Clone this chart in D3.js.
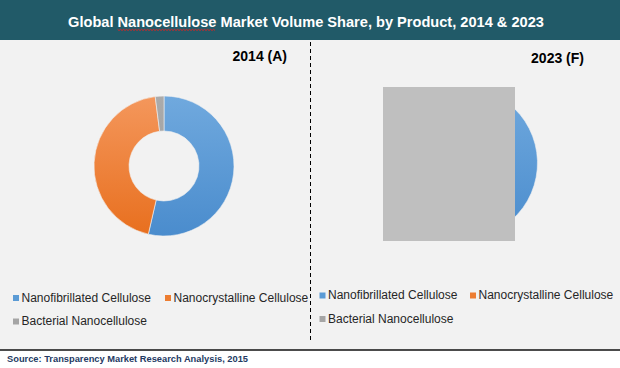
<!DOCTYPE html>
<html>
<head>
<meta charset="utf-8">
<script src="https://cdn.jsdelivr.net/npm/d3@7"></script>
<style>
  body { margin: 0; background: #ffffff; }
  text { font-family: Arial, "Liberation Sans", sans-serif; }
</style>
</head>
<body>
<div id="chart"></div>
<script>
// DATA
const products = ["Nanofibrillated Cellulose", "Nanocrystalline Cellulose", "Bacterial Nanocellulose"];
const share2014 = [53.6, 44.4, 2.0];
const share2023 = [56.0, 41.0, 3.0];
const panelLabels = ["2014 (A)", "2023 (F)"];
const colorTop = ["#70a9de", "#f4975c", "#ababab"];
const colorBottom = ["#4a8ccd", "#e86f1e", "#979797"];
const legendColors = ["#5b9bd5", "#ed7d31", "#a5a5a5"];

const W = 620, H = 368;

const svg = d3.select("#chart").append("svg")
  .attr("width", W).attr("height", H);

// BACKGROUND
svg.append("rect").attr("width", W).attr("height", H).attr("fill", "#ffffff");
svg.append("rect").attr("x", 0).attr("y", 40).attr("width", W).attr("height", 310).attr("fill", "#f2f2f2");

// TITLE
svg.append("rect").attr("width", W).attr("height", 40).attr("fill", "#215a68");
const title = svg.append("text")
  .attr("x", 306).attr("y", 26.5)
  .attr("text-anchor", "middle")
  .attr("fill", "#ffffff")
  .style("font-size", "14.6px")
  .style("font-weight", "bold")
  .text("Global Nanocellulose Market Volume Share, by Product, 2014 & 2023");

// spell-check squiggle under "Nanocellulose"
const tn = title.node();
const sq0 = tn.getStartPositionOfChar(7).x;
const sq1 = tn.getEndPositionOfChar(19).x;
const sqPts = d3.range(sq0, sq1, 1.5).map((x, i) => [x, 29.5 + (i % 2 ? 1 : -0.2)]);
svg.append("path")
  .attr("d", d3.line()(sqPts))
  .attr("fill", "none")
  .attr("stroke", "#e02020")
  .attr("stroke-width", 0.9);

// DIVIDER
svg.append("line")
  .attr("x1", 310.5).attr("x2", 310.5)
  .attr("y1", 42).attr("y2", 340)
  .attr("stroke", "#000").attr("stroke-width", 1)
  .attr("stroke-dasharray", "4,3");

// PANEL LABELS
svg.append("text").attr("x", 287).attr("y", 61).attr("text-anchor", "end")
  .style("font-size", "14px").style("font-weight", "bold").attr("fill", "#000")
  .text(panelLabels[0]);
svg.append("text").attr("x", 584).attr("y", 63).attr("text-anchor", "end")
  .style("font-size", "14px").style("font-weight", "bold").attr("fill", "#000")
  .text(panelLabels[1]);

// DONUTS
const defs = svg.append("defs");
const pie = d3.pie().sort(null).value(d => d);

function drawDonut(id, values, cx, cy, R, r) {
  // gradients live in the donut group's local space (centred on 0,0)
  products.forEach((p, i) => {
    const grad = defs.append("linearGradient")
      .attr("id", `${id}-g${i}`)
      .attr("gradientUnits", "userSpaceOnUse")
      .attr("x1", 0).attr("x2", 0)
      .attr("y1", -R).attr("y2", R);
    grad.append("stop").attr("offset", "0%").attr("stop-color", colorTop[i]);
    grad.append("stop").attr("offset", "100%").attr("stop-color", colorBottom[i]);
  });

  const arc = d3.arc().innerRadius(r).outerRadius(R);
  const g = svg.append("g")
    .attr("id", id)
    .attr("transform", `translate(${cx},${cy})`);

  g.selectAll("path")
    .data(pie(values))
    .enter()
    .append("path")
    .attr("d", arc)
    .attr("fill", (d, i) => `url(#${id}-g${i})`)
    .attr("stroke", "#f2f2f2")
    .attr("stroke-width", 0.6);
  return g;
}

drawDonut("donut2014", share2014, 164, 166, 70, 35);
drawDonut("donut2023", share2023, 461.5, 163, 76, 38);

// grey block over 2023 chart
svg.append("rect")
  .attr("x", 383).attr("y", 87)
  .attr("width", 132).attr("height", 154)
  .attr("fill", "#bfbfbf");

// LEGENDS
function drawLegend(x0, x1, y0, rowGap) {
  const pos = [[x0, y0], [x1, y0], [x0, y0 + rowGap]];
  products.forEach((p, i) => {
    const lg = svg.append("g")
      .attr("transform", `translate(${pos[i][0]},${pos[i][1]})`);
    lg.append("rect")
      .attr("x", 0).attr("y", -6.5)
      .attr("width", 6).attr("height", 6)
      .attr("fill", legendColors[i]);
    lg.append("text")
      .attr("x", 8.5).attr("y", 0)
      .style("font-size", "12px")
      .attr("fill", "#262626")
      .text(p);
  });
}
drawLegend(13, 165, 301.5, 23.5);
drawLegend(319.5, 470, 299, 23.5);

// FOOTER
svg.append("line")
  .attr("x1", 0).attr("x2", W)
  .attr("y1", 350).attr("y2", 350)
  .attr("stroke", "#111").attr("stroke-width", 1.5);
svg.append("text")
  .attr("x", 7).attr("y", 362)
  .style("font-size", "9.3px")
  .style("font-weight", "bold")
  .attr("fill", "#243a63")
  .text("Source: Transparency Market Research Analysis, 2015");
</script>
</body>
</html>
